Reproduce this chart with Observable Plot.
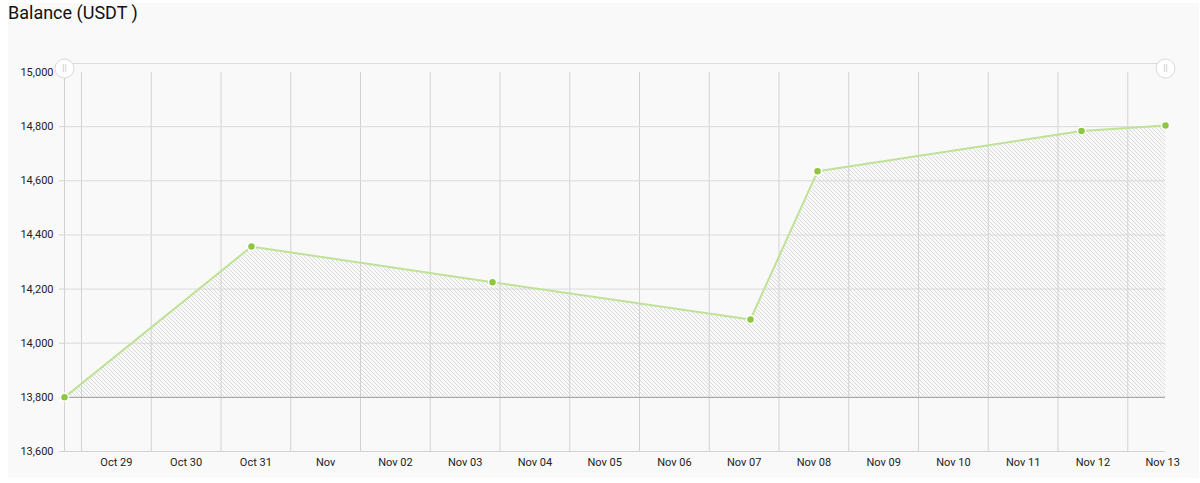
<!DOCTYPE html>
<html>
<head>
<meta charset="utf-8">
<script src="https://cdn.jsdelivr.net/npm/d3@7"></script>
<script src="https://cdn.jsdelivr.net/npm/@observablehq/plot@0.6"></script>
<style>
  html, body { margin: 0; padding: 0; background: #ffffff; }
  #wrap { position: relative; width: 1200px; height: 483px; overflow: hidden; }
  #panel { position: absolute; left: 8px; top: 3px; width: 1191px; height: 475px; background: #f9f9f9; }
  #title { position: absolute; left: 8px; top: 4px; font-family: Roboto, sans-serif; font-size: 18px; line-height: 18px; color: #111; white-space: pre; z-index: 2; }
  #chart { position: absolute; left: 0; top: 0; }
</style>
</head>
<body>
<div id="wrap">
  <div id="panel"></div>
  <div id="title">Balance (USDT )</div>
  <div id="chart"></div>
</div>
<script>
// ---- data ----
const pointDates = ["2017-10-28T18:09Z", "2017-10-31T10:29Z", "2017-11-03T21:25Z", "2017-11-07T14:11Z", "2017-11-08T13:15Z", "2017-11-12T08:05Z", "2017-11-13T12:59Z"];
const balances = [13800, 14357, 14225, 14088, 14635, 14784, 14804];
const dayTicks = ["2017-10-29", "2017-10-30", "2017-10-31", "2017-11-01", "2017-11-02", "2017-11-03", "2017-11-04", "2017-11-05", "2017-11-06", "2017-11-07", "2017-11-08", "2017-11-09", "2017-11-10", "2017-11-11", "2017-11-12", "2017-11-13"];
const dayLabels = ["Oct 29", "Oct 30", "Oct 31", "Nov", "Nov 02", "Nov 03", "Nov 04", "Nov 05", "Nov 06", "Nov 07", "Nov 08", "Nov 09", "Nov 10", "Nov 11", "Nov 12", "Nov 13"];
const yTicks = [13600, 13800, 14000, 14200, 14400, 14600, 14800, 15000];
const yMin = 13600, yMax = 15000, areaBase = 13800;

// ---- build ----
const data = pointDates.map((d, i) => ({date: new Date(d), value: balances[i]}));
const dayDates = dayTicks.map(d => new Date(d + "T00:00Z"));
const labelData = dayTicks.map((d, i) => ({date: new Date(d + "T12:00Z"), label: dayLabels[i]}));
const t0 = data[0].date, t1 = data[data.length - 1].date;
const ends = [t0, t1];

const chart = Plot.plot({
  width: 1200,
  height: 483,
  marginLeft: 64,
  marginRight: 35,
  marginTop: 72,
  marginBottom: 32,
  style: {background: "transparent", fontFamily: "Roboto, sans-serif", fontSize: "11px", color: "#222", overflow: "visible"},
  x: {type: "utc", domain: [t0, t1], axis: null},
  y: {domain: [yMin, yMax], axis: null},
  marks: [
    Plot.gridX(dayDates, {stroke: "#d2d2d2", strokeOpacity: 1}),
    Plot.gridY(yTicks.filter(v => v !== yMin && v !== yMax), {stroke: "#dadada", strokeOpacity: 1}),
    Plot.areaY(data, {x: "date", y1: areaBase, y2: "value", fill: "url(#hatch)"}),
    Plot.ruleX([t0], {x: d => d, stroke: "#d2d2d2"}),
    Plot.ruleY([yMin], {stroke: "#d2d2d2"}),
    Plot.ruleY([areaBase], {stroke: "#a0a0a0"}),
    Plot.axisY({ticks: yTicks, tickSize: 5, tickPadding: 6, tickFormat: d3.format(","), stroke: "#d2d2d2", fill: "#222", label: null}),
    Plot.text(labelData, {x: "date", frameAnchor: "bottom", dy: 14, text: "label", fill: "#222"}),
    Plot.lineY(data, {x: "date", y: "value", stroke: "#c0e296", strokeWidth: 2}),
    Plot.dot(data, {x: "date", y: "value", r: 4, fill: "#8dc63f", stroke: "#ffffff", strokeWidth: 1.5}),
    // scrollbar decoration
    Plot.ruleY([yMax], {dy: -9, stroke: "#dddddd"}),
    Plot.dot(ends, {x: d => d, y: () => yMax, dy: -4, r: 9.5, fill: "#ffffff", stroke: "#d9d9d9", strokeWidth: 1}),
    Plot.text(ends, {x: d => d, y: () => yMax, dy: -4, text: () => "||", fill: "#c4c4c4", fontSize: 9})
  ]
});

const ns = "http://www.w3.org/2000/svg";
const defs = document.createElementNS(ns, "defs");
defs.innerHTML = `<pattern id="hatch" patternUnits="userSpaceOnUse" width="4" height="4">
  <path d="M-1,-1L5,5M-1,3L1,5M3,-1L5,1" stroke="#d2d2d2" stroke-width="0.8" fill="none"/>
</pattern>`;
chart.insertBefore(defs, chart.firstChild);
document.getElementById("chart").appendChild(chart);
</script>
</body>
</html>
